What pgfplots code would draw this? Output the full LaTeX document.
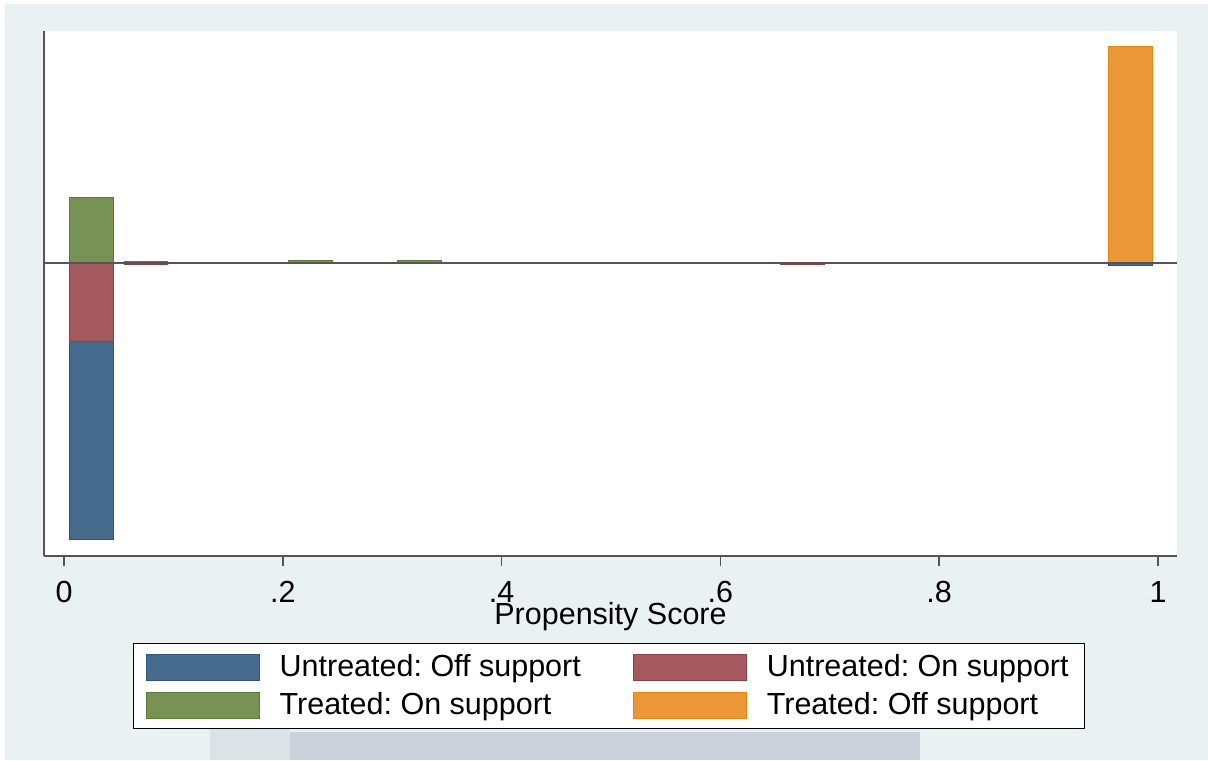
\documentclass[border=0pt]{standalone}
\usepackage{pgfplots}
\pgfplotsset{compat=1.18}
\usepackage{fontspec}
\setmainfont{Liberation Sans}
\frenchspacing
\definecolor{bgc}{HTML}{EAF1F3}
\definecolor{wma}{HTML}{DCE3E8}
\definecolor{wmb}{HTML}{CBD2DC}
\definecolor{sblue}{HTML}{466A8C}
\definecolor{sbluel}{HTML}{2F557A}
\definecolor{sred}{HTML}{A55A5F}
\definecolor{sredl}{HTML}{8E3F45}
\definecolor{sgreen}{HTML}{789155}
\definecolor{sgreenl}{HTML}{5E7A3A}
\definecolor{sorange}{HTML}{EB9637}
\definecolor{sorangel}{HTML}{E8870F}
\definecolor{axc}{HTML}{555555}
\begin{document}
\begin{tikzpicture}
\path (0,0) rectangle (604pt,380pt);
\fill[bgc] (2.5pt,0pt) rectangle (604pt,378pt);
% faint watermark strip
\fill[wma] (105pt,0pt) rectangle (145pt,16pt);
\fill[wmb] (145pt,0pt) rectangle (460pt,14pt);
\begin{axis}[
  at={(22pt,102pt)}, anchor=south west,
  width=566.5pt, height=262.5pt, scale only axis,
  xmin=-0.0183, xmax=1.0174, ymin=-2.93, ymax=2.32,
  axis background/.style={fill=white},
  axis lines*=left,
  axis line style={axc, line width=1pt},
  ytick=\empty,
  xtick={0,0.2,0.4,0.6,0.8,1},
  xticklabels={0,.2,.4,.6,.8,1},
  tick align=outside, major tick length=5pt,
  tick style={axc, line width=0.8pt},
  /pgf/number format/assume math mode=true,
  ticklabel style={font=\fontsize{15.25}{18}\selectfont},
  xticklabel style={inner sep=0pt, yshift=-7.6pt},
  xlabel={Propensity Score},
  xlabel style={font=\fontsize{15.25}{18}\selectfont, inner sep=0pt, yshift=0.4pt},
  ybar, bar width=0.04, bar shift=0pt,
  legend columns=2,
  legend cell align=left,
  legend image code/.code={\draw[#1, line width=0.5pt] (0pt,-6.5pt) rectangle (56.5pt,6.5pt);},
  legend style={at={(0.0786,-0.1657)}, anchor=north west, draw=black, line width=0.6pt, fill=white,
    font=\fontsize{15.25}{18}\selectfont, row sep=2.5pt, inner xsep=6pt, inner ysep=3.5pt,
    /tikz/every even column/.append style={column sep=24pt},
    /tikz/every odd column/.append style={column sep=8pt}},
]
\addplot[fill=sblue, draw=sbluel, line width=0.5pt] coordinates {(0.025,-2.76) (0.975,-0.025)};
\addplot[fill=sred, draw=sredl, line width=0.5pt] coordinates {(0.025,-0.79) (0.075,-0.015) (0.675,-0.02)};
\addplot[fill=sgreen, draw=sgreenl, line width=0.5pt] coordinates {(0.025,0.65) (0.075,0.015) (0.225,0.02) (0.325,0.02)};
\addplot[fill=sorange, draw=sorangel, line width=0.5pt] coordinates {(0.975,2.16)};
\legend{Untreated: Off support, Untreated: On support, Treated: On support, Treated: Off support}
\addplot[sharp plot, no marks, axc, line width=1pt, forget plot] coordinates {(-0.0183,0) (1.0174,0)};
\end{axis}
\end{tikzpicture}
\end{document}
